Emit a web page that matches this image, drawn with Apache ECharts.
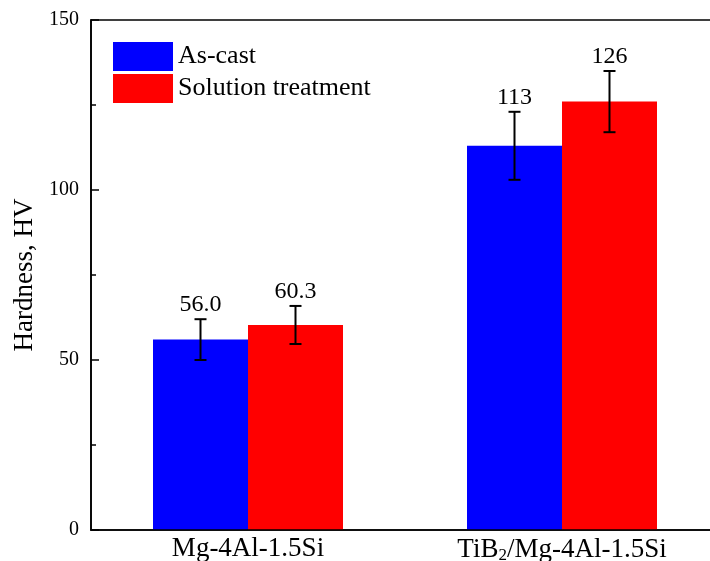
<!DOCTYPE html>
<html>
<head>
<meta charset="utf-8">
<script src="https://cdn.jsdelivr.net/npm/echarts@6/dist/echarts.min.js"></script>
<style>html,body{margin:0;padding:0;background:#fff;}#c{width:710px;height:561px;}</style>
</head>
<body>
<div id="c"></div>
<script>
var categories = ['Mg-4Al-1.5Si', 'TiB2/Mg-4Al-1.5Si'];
var seriesNames = ['As-cast', 'Solution treatment'];
var asCast = [56.0, 113];
var solution = [60.3, 126];
var asCastErr = [6.0, 10.0];
var solutionErr = [5.6, 9.0];
var labelsAsCast = ['56.0', '113'];
var labelsSolution = ['60.3', '126'];
var yTicks = [0, 50, 100, 150];

var FONT = 'Liberation Serif';
var BAR_W = 95;
var chart = echarts.init(document.getElementById('c'), null, {renderer: 'canvas'});

function errData(vals, errs, labels) {
  return vals.map(function (v, i) { return [i, v - errs[i], v + errs[i], labels[i]]; });
}
function errSeries(name, vals, errs, labels, offset) {
  return {
    type: 'custom',
    name: name + ' err',
    z: 5,
    data: errData(vals, errs, labels),
    renderItem: function (params, api) {
      var x = api.value(0);
      var lo = api.coord([x, api.value(1)]);
      var hi = api.coord([x, api.value(2)]);
      var cx = lo[0] + offset * BAR_W / 2;
      var cap = 6;
      var s = {stroke: '#000', lineWidth: 2};
      return {
        type: 'group',
        children: [
          {type: 'line', shape: {x1: cx, y1: lo[1], x2: cx, y2: hi[1]}, style: s},
          {type: 'line', shape: {x1: cx - cap, y1: lo[1], x2: cx + cap, y2: lo[1]}, style: s},
          {type: 'line', shape: {x1: cx - cap, y1: hi[1], x2: cx + cap, y2: hi[1]}, style: s},
          {type: 'text', style: {text: labels[params.dataIndex], x: cx, y: hi[1] - 2,
            textAlign: 'center', textVerticalAlign: 'bottom', fill: '#000',
            font: '24px "' + FONT + '"'}}
        ]
      };
    }
  };
}

chart.setOption({
  backgroundColor: '#fff',
  animation: false,
  textStyle: {fontFamily: FONT},
  grid: {left: 91, top: 20, width: 628, bottom: 31, show: true, borderColor: '#000', borderWidth: 1.6,
    backgroundColor: 'transparent', containLabel: false, outerBoundsMode: 'none'},
  legend: {
    orient: 'vertical', left: 108, top: 37, itemWidth: 60, itemHeight: 29, itemGap: 3,
    textStyle: {fontSize: 26, color: '#000', fontFamily: FONT},
    data: seriesNames.map(function (n) { return {name: n, icon: 'rect'}; })
  },
  xAxis: {
    type: 'category', data: categories, z: 6,
    axisLine: {lineStyle: {color: '#000', width: 1.6}},
    axisTick: {alignWithLabel: true, inside: true, length: 9, lineStyle: {color: '#000', width: 1.5}},
    axisLabel: {
      interval: 0, hideOverlap: false,
      margin: 5, color: '#000', fontSize: 27, fontFamily: FONT,
      formatter: function (v) {
        if (v.indexOf('TiB2') === 0) return '{a|TiB}{s|2}{a|' + v.slice(4) + '}';
        return '{a|' + v + '}';
      },
      rich: {
        a: {fontSize: 27, fontFamily: FONT, color: '#000'},
        s: {fontSize: 17, fontFamily: FONT, color: '#000', padding: [12, 0, 0, 0]}
      }
    }
  },
  yAxis: {
    type: 'value', min: 0, max: 150, interval: 50,
    name: 'Hardness, HV', nameLocation: 'middle', nameGap: 46, nameRotate: 90,
    nameTextStyle: {fontSize: 27, color: '#000', fontFamily: FONT},
    axisLine: {show: true, lineStyle: {color: '#000', width: 1.6}},
    axisTick: {show: true, inside: true, length: 8, lineStyle: {color: '#000', width: 1.5}},
    minorTick: {show: true, splitNumber: 2, length: 5, lineStyle: {color: '#000', width: 1.5}},
    splitLine: {show: false},
    axisLabel: {margin: 12, color: '#000', fontSize: 20, fontFamily: FONT,
      formatter: function (v) { return yTicks.indexOf(v) >= 0 ? String(v) : ''; }}
  },
  series: [
    {type: 'bar', name: seriesNames[0], data: asCast, barWidth: BAR_W, barGap: '0%', itemStyle: {color: '#0000FF'}},
    {type: 'bar', name: seriesNames[1], data: solution, barWidth: BAR_W, barGap: '0%', itemStyle: {color: '#FF0000'}},
    errSeries(seriesNames[0], asCast, asCastErr, labelsAsCast, -1),
    errSeries(seriesNames[1], solution, solutionErr, labelsSolution, 1)
  ]
});
</script>
</body>
</html>
